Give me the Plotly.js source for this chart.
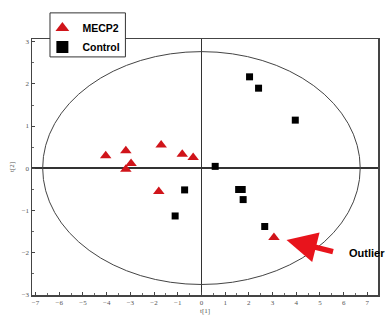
<!DOCTYPE html>
<html><head><meta charset="utf-8">
<script src="https://cdn.plot.ly/plotly-3.0.1.min.js"></script>
<style>html,body{margin:0;padding:0;background:#fff}#chart{width:386px;height:320px}</style>
</head><body><div id="chart"></div>
<script>
// MECP2 samples (t[1], t[2])
const mecp2X = [-4.04, -3.19, -2.97, -3.19, -1.70, -0.81, -0.35, -1.80, 3.06];
const mecp2Y = [0.29, 0.41, 0.11, -0.03, 0.55, 0.33, 0.25, -0.56, -1.65];
// Control samples
const controlX = [-0.71, -1.11, 2.03, 2.41, 3.96, 0.58, 1.57, 1.72, 1.76, 2.67];
const controlY = [-0.52, -1.14, 2.17, 1.90, 1.14, 0.04, -0.51, -0.51, -0.75, -1.39];
// Hotelling ellipse radii
const ellipseRx = 6.7, ellipseRy = 2.77;
const xTicks = [-7,-6,-5,-4,-3,-2,-1,0,1,2,3,4,5,6,7];
const yTicks = [-3,-2,-1,0,1,2,3];

const traces = [
  {x: mecp2X, y: mecp2Y, name: 'MECP2', type: 'scatter', mode: 'markers',
   marker: {symbol: 'triangle-up', size: 10, color: '#d0141a'}},
  {x: controlX, y: controlY, name: 'Control', type: 'scatter', mode: 'markers',
   marker: {symbol: 'square', size: 7, color: '#000'}}
];

const axisCommon = {
  showgrid: false, zeroline: true, zerolinecolor: '#333', zerolinewidth: 1.2,
  showline: true, linecolor: '#444', linewidth: 1.5, mirror: true,
  ticks: 'inside', ticklen: 3, tickcolor: '#444', tickwidth: 1,
  tickfont: {family: 'Liberation Serif', size: 7, color: '#555'},
  minor: {ticks: 'inside', ticklen: 2, tickcolor: '#666', dtick: 0.5}
};

const layout = {
  width: 386, height: 320,
  margin: {l: 32, r: 8, t: 39, b: 25},
  paper_bgcolor: '#fff', plot_bgcolor: '#fff',
  showlegend: true,
  legend: {x: 0.03, y: 1.1, xanchor: 'left', yanchor: 'top',
    bgcolor: 'rgba(0,0,0,0)', borderwidth: 0, itemsizing: 'constant',
    font: {family: 'Liberation Sans', size: 10.5, color: '#000', weight: 'bold'},
    tracegroupgap: 0},
  xaxis: Object.assign({}, axisCommon, {range: [-7.15, 7.45], tickvals: xTicks,
    title: {text: 't[1]', font: {family: 'Liberation Serif', size: 7, color: '#555'}, standoff: 2}}),
  yaxis: Object.assign({}, axisCommon, {range: [-3.02, 3.07], tickvals: yTicks,
    title: {text: 't[2]', font: {family: 'Liberation Serif', size: 7, color: '#555'}, standoff: 6}}),
  shapes: [
    {type: 'circle', xref: 'x', yref: 'y', x0: -ellipseRx, x1: ellipseRx, y0: -ellipseRy, y1: ellipseRy,
     line: {color: '#444', width: 1}},
    {type: 'rect', xref: 'paper', yref: 'paper', x0: 0.052, x1: 0.27, y0: 0.93, y1: 1.102,
     fillcolor: '#fff', line: {color: '#333', width: 1}, layer: 'above'}
  ],
  annotations: [
    {x: 3.59, y: -1.71, xref: 'x', yref: 'y', text: '', showarrow: true,
     ax: 48, ay: 12, arrowcolor: '#e8141c', arrowwidth: 5.5, arrowhead: 2, arrowsize: 1.1, standoff: 0},
    {x: 7.0, y: -2.02, xref: 'x', yref: 'y', text: 'Outlier', showarrow: false,
     font: {family: 'Liberation Sans', size: 11, color: '#000', weight: 'bold'}}
  ]
};

Plotly.newPlot('chart', traces, layout, {displayModeBar: false, staticPlot: true});
</script></body></html>
